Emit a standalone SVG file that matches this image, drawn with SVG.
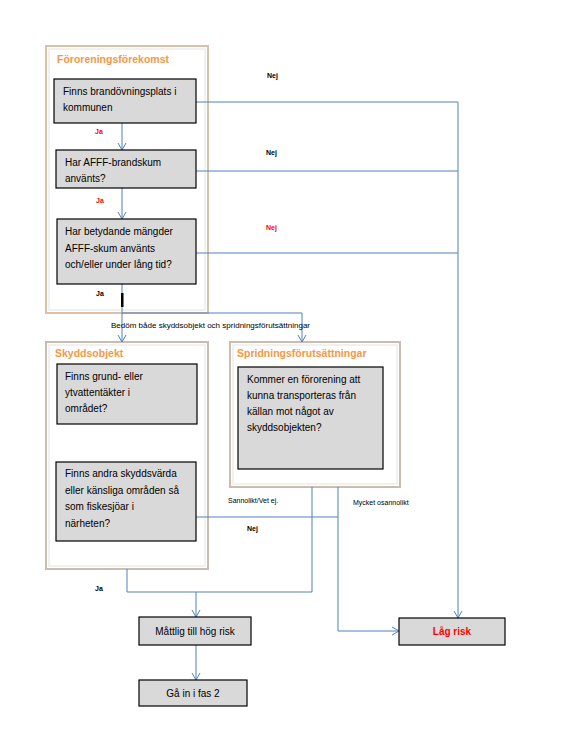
<svg xmlns="http://www.w3.org/2000/svg" width="578" height="741" viewBox="0 0 578 741">
<defs>
<style>
.cont{fill:#fff;stroke:#c9bcb0;stroke-width:2}
.cont1{fill:#fff;stroke:#dcbfa8;stroke-width:2}
.inner{fill:none;stroke:#f3f1ef;stroke-width:2}
.box{fill:#d9d9d9;stroke:#000;stroke-width:1.2}
.t{font-family:"Liberation Sans",Arial,sans-serif;font-size:10px;fill:#000}
.ttl{font-family:"Liberation Sans",Arial,sans-serif;font-size:10.5px;font-weight:bold;fill:#f79646}
.lbl{font-family:"Liberation Sans",Arial,sans-serif;font-size:7px;font-weight:bold;fill:#000}
.red{fill:#ff0000}
.c{fill:none;stroke:#4f81bd;stroke-width:1}
</style>
<marker id="ah" markerWidth="10" markerHeight="10" refX="8" refY="5" orient="auto" markerUnits="userSpaceOnUse">
<path d="M1,1 L8,5 L1,9" fill="none" stroke="#4f81bd" stroke-width="1"/>
</marker>
</defs>
<rect width="578" height="741" fill="#fff"/>

<g id="foroerningsforekomst">
<rect class="cont1" x="46" y="46" width="162" height="267"/>
<rect class="inner" x="49" y="49" width="156" height="261"/>
<text class="ttl" x="57" y="63">Föroreningsförekomst</text>
</g>
<g id="skyddsobjekt">
<rect class="cont" x="46" y="342" width="162" height="227"/>
<rect class="inner" x="49" y="345" width="156" height="221"/>
<text class="ttl" x="55" y="357">Skyddsobjekt</text>
</g>
<g id="spridning">
<rect class="cont" x="230" y="342" width="170" height="145"/>
<rect class="inner" x="233" y="345" width="164" height="139"/>
<text class="ttl" x="237" y="357">Spridningsförutsättningar</text>
</g>

<g id="connectors">
<line class="c" x1="122" y1="123" x2="122" y2="150" marker-end="url(#ah)"/>
<line class="c" x1="122" y1="188" x2="122" y2="219" marker-end="url(#ah)"/>
<line class="c" x1="122" y1="284" x2="122" y2="342" marker-end="url(#ah)"/>
<polyline class="c" points="122,313 302,313 302,342" marker-end="url(#ah)"/>
<line class="c" x1="196" y1="102" x2="458" y2="102"/>
<line class="c" x1="196" y1="171" x2="458" y2="171"/>
<line class="c" x1="196" y1="253" x2="458" y2="253"/>
<line class="c" x1="458" y1="102" x2="458" y2="618" marker-end="url(#ah)"/>
<line class="c" x1="196" y1="517" x2="338" y2="517"/>
<polyline class="c" points="338,487 338,631 399,631" marker-end="url(#ah)"/>
<polyline class="c" points="312,487 312,592 127,592 127,569"/>
<line class="c" x1="196" y1="592" x2="196" y2="617" marker-end="url(#ah)"/>
<line class="c" x1="196" y1="645" x2="196" y2="680" marker-end="url(#ah)"/>
<rect x="121" y="293" width="2.5" height="14" fill="#000"/>
</g>

<g id="n1">
<rect class="box" x="54" y="79" width="142" height="44"/>
<text class="t" x="63" y="95">Finns brandövningsplats i</text>
<text class="t" x="63" y="111">kommunen</text>
</g>
<g id="n2">
<rect class="box" x="56" y="150" width="140" height="38"/>
<text class="t" x="65" y="166">Har AFFF-brandskum</text>
<text class="t" x="65" y="182">använts?</text>
</g>
<g id="n3">
<rect class="box" x="57" y="219" width="139" height="65"/>
<text class="t" x="65" y="235">Har betydande mängder</text>
<text class="t" x="65" y="252">AFFF-skum använts</text>
<text class="t" x="65" y="268">och/eller under lång tid?</text>
</g>
<g id="n4">
<rect class="box" x="57" y="364" width="140" height="60"/>
<text class="t" x="65" y="380">Finns grund- eller</text>
<text class="t" x="65" y="396">ytvattentäkter i</text>
<text class="t" x="65" y="412">området?</text>
</g>
<g id="n5">
<rect class="box" x="56" y="462" width="140" height="79"/>
<text class="t" x="65" y="477">Finns andra skyddsvärda</text>
<text class="t" x="65" y="494">eller känsliga områden så</text>
<text class="t" x="65" y="510">som fiskesjöar i</text>
<text class="t" x="65" y="527">närheten?</text>
</g>
<g id="n6">
<rect class="box" x="238" y="367" width="145" height="102"/>
<text class="t" x="247" y="383">Kommer en förorening att</text>
<text class="t" x="247" y="399">kunna transporteras från</text>
<text class="t" x="247" y="415">källan mot något av</text>
<text class="t" x="247" y="431">skyddsobjekten?</text>
</g>
<g id="n7">
<rect class="box" x="139" y="617" width="112" height="28"/>
<text class="t" x="195" y="635" text-anchor="middle">Måttlig till hög risk</text>
</g>
<g id="n8">
<rect class="box" x="139" y="680" width="108" height="26"/>
<text class="t" x="193" y="697" text-anchor="middle">Gå in i fas 2</text>
</g>
<g id="n9">
<rect class="box" x="399" y="618" width="106" height="27"/>
<text class="t red" x="452" y="635" text-anchor="middle" style="font-weight:bold">Låg risk</text>
</g>

<g id="labels">
<text class="lbl red" x="95" y="134">Ja</text>
<text class="lbl red" x="96" y="203">Ja</text>
<text class="lbl" x="96" y="296">Ja</text>
<text class="lbl" x="267" y="78">Nej</text>
<text class="lbl" x="266" y="155">Nej</text>
<text class="lbl red" x="266" y="230">Nej</text>
<text class="lbl" x="111" y="328" style="font-weight:normal" textLength="199" lengthAdjust="spacingAndGlyphs">Bedöm både skyddsobjekt och spridningsförutsättningar</text>
<text class="lbl" x="228" y="503" style="font-weight:normal">Sannolikt/Vet ej.</text>
<text class="lbl" x="353" y="505" style="font-weight:normal">Mycket osannolikt</text>
<text class="lbl" x="247" y="531">Nej</text>
<text class="lbl" x="95" y="591">Ja</text>
</g>
</svg>
